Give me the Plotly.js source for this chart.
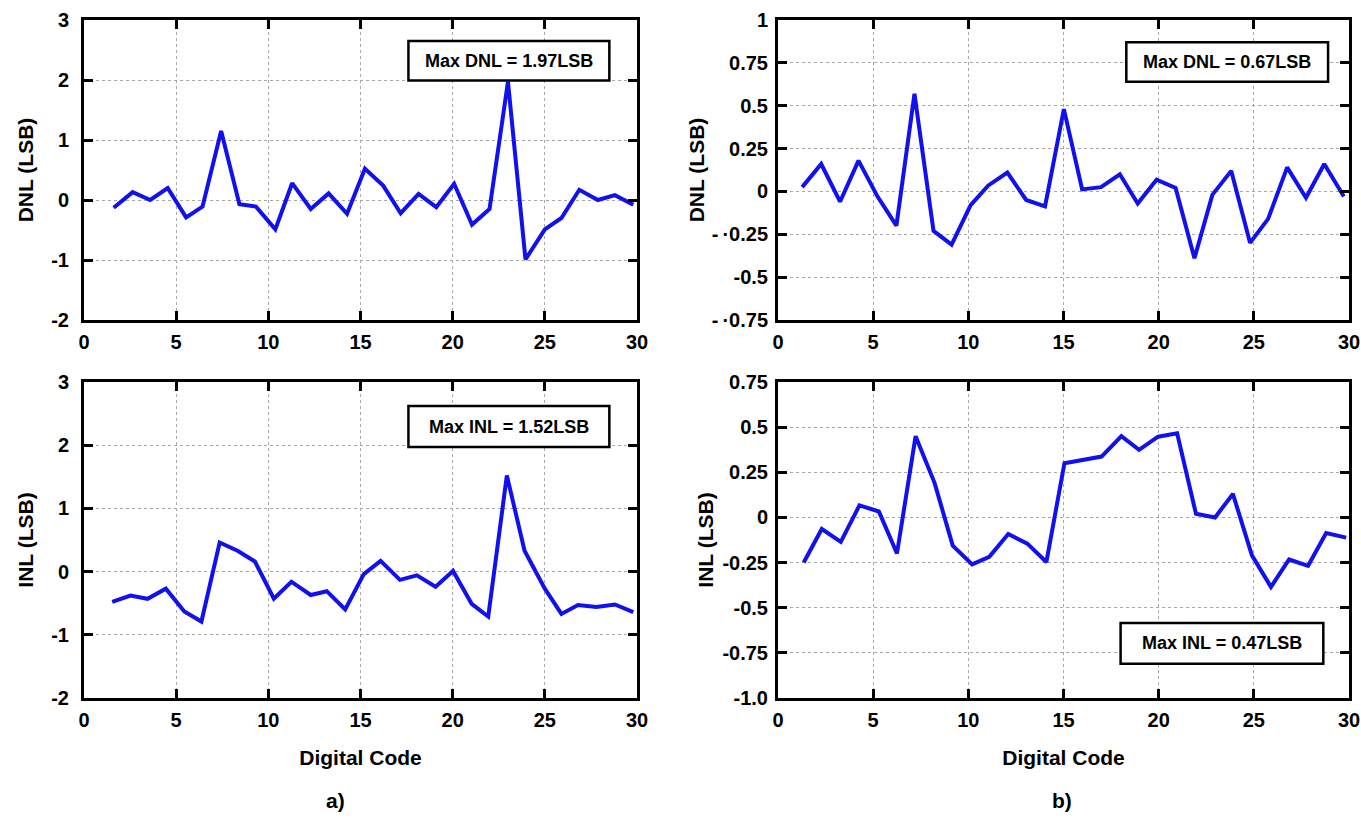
<!DOCTYPE html>
<html>
<head>
<meta charset="utf-8">
<script src="https://cdn.plot.ly/plotly-3.0.1.min.js"></script>
<style>html,body{margin:0;padding:0;background:#fff;}#chart{width:1361px;height:819px;}</style>
</head>
<body>
<div id="chart"></div>
<script>
// ---- data ----
const codeA_DNL = [1.61,2.64,3.59,4.54,5.54,6.43,7.44,8.43,9.33,10.38,11.29,12.3,13.27,14.27,15.24,16.23,17.18,18.15,19.11,20.08,21.05,22.0,23.0,23.95,25.0,25.9,26.87,27.88,28.8,29.8];
const dnlA = [-0.13,0.13,0.0,0.2,-0.29,-0.11,1.15,-0.07,-0.11,-0.49,0.28,-0.15,0.11,-0.23,0.52,0.24,-0.22,0.1,-0.12,0.27,-0.41,-0.15,1.97,-0.99,-0.49,-0.3,0.17,0.0,0.08,-0.08];

const codeA_INL = [1.53,2.52,3.45,4.44,5.44,6.37,7.36,8.33,9.27,10.3,11.25,12.3,13.17,14.17,15.18,16.09,17.14,18.06,19.07,20.02,21.03,21.93,22.94,23.9,25.0,25.9,26.8,27.8,28.8,29.8];
const inlA = [-0.48,-0.38,-0.43,-0.27,-0.63,-0.79,0.46,0.33,0.16,-0.43,-0.16,-0.37,-0.31,-0.6,-0.04,0.17,-0.13,-0.06,-0.24,0.01,-0.51,-0.71,1.52,0.33,-0.27,-0.67,-0.53,-0.56,-0.52,-0.64];

const codeB_DNL = [1.27,2.27,3.26,4.23,5.23,6.22,7.17,8.17,9.12,10.12,11.05,12.05,13.04,14.03,15.02,15.98,16.97,17.96,18.9,19.89,20.89,21.88,22.82,23.81,24.8,25.75,26.75,27.74,28.7,29.73];
const dnlB = [0.025,0.16,-0.06,0.18,-0.03,-0.2,0.57,-0.23,-0.31,-0.08,0.035,0.11,-0.05,-0.087,0.48,0.012,0.025,0.10,-0.07,0.068,0.02,-0.39,-0.02,0.12,-0.3,-0.16,0.14,-0.037,0.16,-0.03];

const codeB_INL = [1.35,2.3,3.3,4.28,5.3,6.25,7.23,8.23,9.18,10.2,11.1,12.1,13.1,14.1,15.05,16.04,17.0,18.04,18.97,19.97,20.97,21.96,22.96,23.9,24.9,25.9,26.85,27.85,28.8,29.85];
const inlB = [-0.25,-0.064,-0.135,0.067,0.033,-0.2,0.45,0.19,-0.156,-0.26,-0.218,-0.092,-0.145,-0.247,0.30,0.318,0.337,0.45,0.374,0.447,0.466,0.02,0.0,0.13,-0.21,-0.385,-0.233,-0.268,-0.087,-0.112];

const xTicks = [0,5,10,15,20,25,30];
const xText = ['0','5','10','15','20','25','30'];
const yTicksA = [-2,-1,0,1,2,3];
const yTextA = ['-2','-1','0','1','2','3'];
const yTicksB_DNL = [-0.75,-0.5,-0.25,0,0.25,0.5,0.75,1];
const yTextB_DNL = ['-\u2009·0.75','-0.5','-\u2009·0.25','0','0.25','0.5','0.75','1'];
const yTicksB_INL = [-1.0,-0.75,-0.5,-0.25,0,0.25,0.5,0.75];
const yTextB_INL = ['-1.0','-0.75','-0.5','-0.25','0','0.25','0.5','0.75'];

const labels = ['Max DNL = 1.97LSB','Max INL = 1.52LSB','Max DNL = 0.67LSB','Max INL = 0.47LSB'];

// ---- styling ----
const FONT = 'Liberation Sans, Arial, sans-serif';
const BLUE = '#1010f0';
const tickFont = {family: FONT, size: 20, color: '#000', weight: 'bold'};
const titleFont = {family: FONT, size: 21, color: '#000', weight: 'bold'};

function line(x, y, xa, ya) {
  return {x: x, y: y, xaxis: xa, yaxis: ya, type: 'scatter', mode: 'lines',
          line: {color: BLUE, width: 4}, hoverinfo: 'skip', showlegend: false};
}

const data = [
  line(codeA_DNL, dnlA, 'x', 'y'),
  line(codeB_DNL, dnlB, 'x2', 'y2'),
  line(codeA_INL, inlA, 'x3', 'y3'),
  line(codeB_INL, inlB, 'x4', 'y4')
];

const W = 1361, H = 819;
const dLeft = [84/W, 637/W], dRight = [778/W, 1349/W];
const dTop = [1-320/H, 1-20/H], dBot = [1-698/H, 1-382/H];

function xAxis(dom, anchor, title) {
  const a = {domain: dom, anchor: anchor, range: [0, 30], tickvals: xTicks, ticktext: xText,
    ticks: 'inside', ticklen: 9, tickwidth: 3, tickcolor: '#000', ticklabelstandoff: 2,
    ticklabeloverflow: 'allow',
    showline: true, linewidth: 3, linecolor: '#000', mirror: 'ticks',
    showgrid: true, gridcolor: '#a8a8a8', griddash: 'dot', gridwidth: 1,
    zeroline: false, tickfont: tickFont, automargin: false, fixedrange: true};
  if (title) a.title = {text: title, font: titleFont, standoff: 21};
  return a;
}
function yAxis(dom, anchor, range, vals, text, title, standoff, lstand) {
  return {domain: dom, anchor: anchor, range: range, tickvals: vals, ticktext: text,
    ticks: 'inside', ticklen: 9, tickwidth: 3, tickcolor: '#000', ticklabelstandoff: lstand,
    ticklabeloverflow: 'allow',
    showline: true, linewidth: 3, linecolor: '#000', mirror: 'ticks',
    showgrid: true, gridcolor: '#a8a8a8', griddash: 'dot', gridwidth: 1,
    zeroline: false, tickfont: tickFont, automargin: false, fixedrange: true,
    title: {text: title, font: titleFont, standoff: standoff}};
}

function box(xa, ya, x0, x1, y0, y1) {
  return {type: 'rect', xref: xa, yref: ya, x0: x0, x1: x1, y0: y0, y1: y1,
          line: {color: '#000', width: 2.5}, fillcolor: '#fff', layer: 'above'};
}
function boxText(xa, ya, x, y, t) {
  return {xref: xa, yref: ya, x: x, y: y, text: t, showarrow: false,
          xanchor: 'center', yanchor: 'middle',
          font: {family: FONT, size: 18, color: '#000', weight: 'bold'}};
}

const layout = {
  width: W, height: H, autosize: false,
  margin: {l: 0, r: 0, t: 0, b: 0},
  paper_bgcolor: '#fff', plot_bgcolor: '#fff',
  showlegend: false,
  xaxis: xAxis(dLeft, 'y'),
  yaxis: yAxis(dTop, 'x', [-2, 3], yTicksA, yTextA, 'DNL (LSB)', 12, 8),
  xaxis2: xAxis(dRight, 'y2'),
  yaxis2: yAxis(dTop, 'x2', [-0.75, 1], yTicksB_DNL, yTextB_DNL, 'DNL (LSB)', 2, 3),
  xaxis3: xAxis(dLeft, 'y3', 'Digital Code'),
  yaxis3: yAxis(dBot, 'x3', [-2, 3], yTicksA, yTextA, 'INL (LSB)', 12, 8),
  xaxis4: xAxis(dRight, 'y4', 'Digital Code'),
  yaxis4: yAxis(dBot, 'x4', [-1.0, 0.75], yTicksB_INL, yTextB_INL, 'INL (LSB)', 4, 3),
  shapes: [
    box('x', 'y', 17.6, 28.5, 1.99, 2.65),
    box('x3', 'y3', 17.6, 28.5, 1.97, 2.62),
    box('x2', 'y2', 18.3, 28.9, 0.64, 0.87),
    box('x4', 'y4', 18.0, 28.65, -0.81, -0.584)
  ],
  annotations: [
    boxText('x', 'y', 23.05, 2.32, labels[0]),
    boxText('x3', 'y3', 23.05, 2.295, labels[1]),
    boxText('x2', 'y2', 23.6, 0.755, labels[2]),
    boxText('x4', 'y4', 23.33, -0.697, labels[3]),
    {xref: 'paper', yref: 'paper', x: 335/W, y: 1-800/H, text: 'a)', showarrow: false,
     xanchor: 'center', yanchor: 'middle', font: titleFont},
    {xref: 'paper', yref: 'paper', x: 1062/W, y: 1-800/H, text: 'b)', showarrow: false,
     xanchor: 'center', yanchor: 'middle', font: titleFont}
  ]
};

Plotly.newPlot('chart', data, layout, {displayModeBar: false, staticPlot: true});
</script>
</body>
</html>
